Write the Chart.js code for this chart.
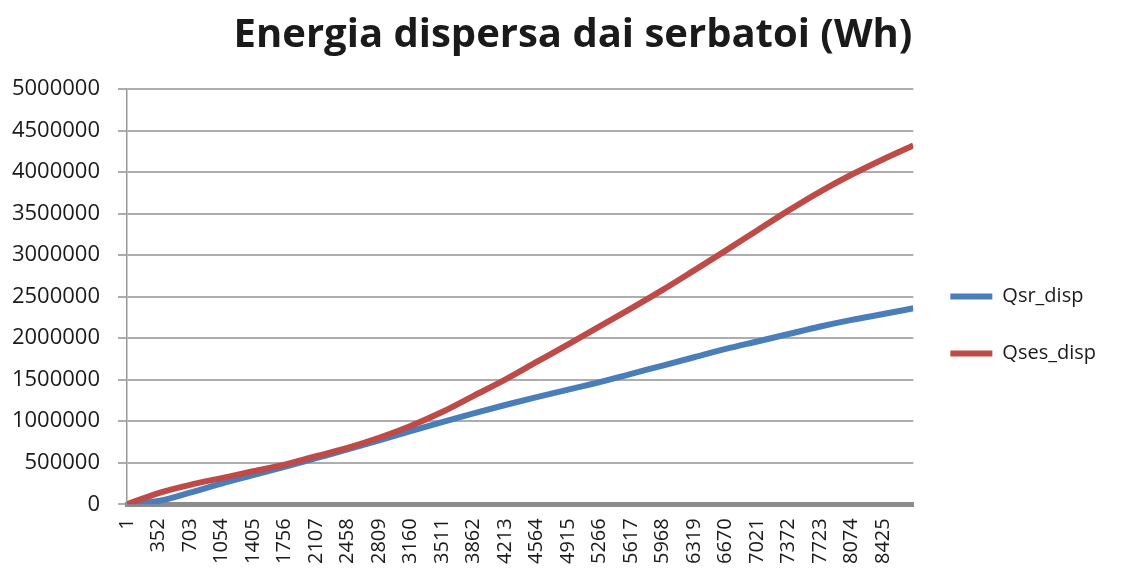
<!DOCTYPE html>
<html>
<head>
<meta charset="utf-8">
<script src="https://cdn.jsdelivr.net/npm/chart.js@4.4.0/dist/chart.umd.min.js"></script>
<style>
  html, body { margin: 0; padding: 0; background: #fff; }
  #wrap { width: 1125px; height: 570px; }
</style>
</head>
<body>
<div id="wrap"><canvas id="chart" width="1125" height="570"></canvas></div>
<script>
// ore dell'anno (etichette dell'asse x)
const tickHours = [1, 352, 703, 1054, 1405, 1756, 2107, 2458, 2809, 3160, 3511, 3862, 4213,
                   4564, 4915, 5266, 5617, 5968, 6319, 6670, 7021, 7372, 7723, 8074, 8425];

// ore dei punti
const sampleHours = [1, 352, 703, 1054, 1405, 1756, 2107, 2458, 2809, 3160, 3511, 3862, 4213,
                     4564, 4915, 5266, 5617, 5968, 6319, 6670, 7021, 7372, 7723, 8074, 8425, 8760];

// energia dispersa cumulata (Wh)
const qsrDisp = [0, 40000, 140000, 250000, 350000, 450000, 555000, 660000, 770000, 880000,
                 990000, 1095000, 1195000, 1290000, 1380000, 1470000, 1570000, 1670000,
                 1770000, 1870000, 1960000, 2050000, 2140000, 2220000, 2290000, 2360000];
const qsesDisp = [0, 135000, 234000, 315000, 397000, 477000, 579000, 680000, 801000, 943000,
                  1110000, 1305000, 1500000, 1713000, 1926000, 2142000, 2358000, 2581000,
                  2816000, 3054000, 3297000, 3538000, 3765000, 3970000, 4155000, 4320000];

const yTicks = { min: 0, max: 5000000, step: 500000 };

const FONT = "'Open Sans', 'Liberation Sans', sans-serif";

function toPoints(values) {
    return sampleHours.map((h, i) => ({ x: h, y: values[i] }));
}

// il titolo in Excel è centrato un po' più a destra
const shiftTitle = {
    id: 'shiftTitle',
    afterLayout(chart) {
        if (chart.titleBlock) chart.titleBlock.left += 32;
    }
};

new Chart(document.getElementById('chart'), {
    type: 'line',
    plugins: [shiftTitle],
    data: {
        datasets: [
            {
                label: 'Qsr_disp',
                data: toPoints(qsrDisp),
                borderColor: '#4a7ebb',
                backgroundColor: '#4a7ebb',
                borderWidth: 6,
                pointRadius: 0,
                cubicInterpolationMode: 'monotone',
                order: 1
            },
            {
                label: 'Qses_disp',
                data: toPoints(qsesDisp),
                borderColor: '#be4b48',
                backgroundColor: '#be4b48',
                borderWidth: 6,
                pointRadius: 0,
                cubicInterpolationMode: 'monotone',
                order: 0
            }
        ]
    },
    options: {
        responsive: false,
        animation: false,
        devicePixelRatio: 1,
        layout: { padding: { left: 8, right: 19, top: 0, bottom: 0 } },
        plugins: {
            title: {
                display: true,
                text: 'Energia dispersa dai serbatoi (Wh)',
                color: '#1a1a1a',
                font: { family: FONT, size: 40, weight: 'bold' },
                padding: { top: 12, bottom: 29 }
            },
            legend: {
                position: 'right',
                title: { display: true, text: ' ', font: { size: 10 }, padding: 34 },
                labels: {
                    usePointStyle: true,
                    pointStyle: 'line',
                    pointStyleWidth: 42,
                    boxHeight: 23,
                    color: '#1a1a1a',
                    font: { family: FONT, size: 20 },
                    padding: 37,
                    sort: (a, b) => a.datasetIndex - b.datasetIndex
                }
            },
            tooltip: { enabled: false }
        },
        scales: {
            x: {
                type: 'linear',
                min: 1,
                max: 8760,
                afterBuildTicks: scale => {
                    scale.ticks = tickHours.map(v => ({ value: v }));
                },
                grid: { display: false },
                border: { display: true, color: '#8c8c8c', width: 5 },
                ticks: {
                    autoSkip: false,
                    maxRotation: 90,
                    minRotation: 90,
                    color: '#1a1a1a',
                    padding: 6,
                    font: { family: FONT, size: 20 },
                    callback: v => String(v)
                }
            },
            y: {
                min: yTicks.min,
                max: yTicks.max,
                afterFit: scale => { scale.width = 119; },
                grid: { color: '#adadad', lineWidth: 2, tickLength: 9 },
                border: { display: true, color: '#9a9a9a', width: 1.5 },
                ticks: {
                    stepSize: yTicks.step,
                    color: '#1a1a1a',
                    padding: 18,
                    font: { family: FONT, size: 22 },
                    callback: v => String(v)
                }
            }
        }
    }
});
</script>
</body>
</html>
